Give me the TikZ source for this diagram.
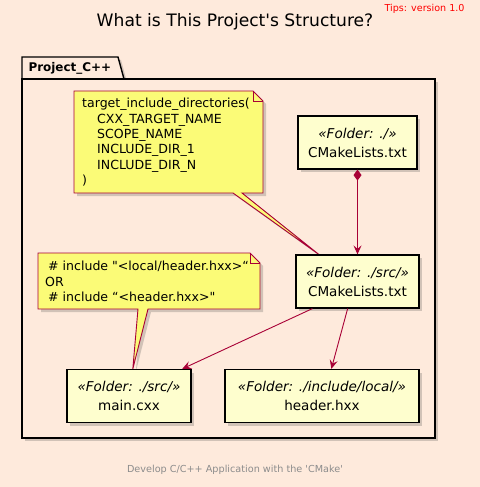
\documentclass[tikz,border=0pt]{standalone}
\usepackage{fontspec}
\setmainfont{DejaVu Sans}
\usetikzlibrary{arrows.meta,shadows}
\definecolor{pagebg}{HTML}{FEEADC}
\definecolor{boxfill}{HTML}{FEFECE}
\definecolor{notefill}{HTML}{FBFB77}
\definecolor{umlred}{HTML}{A80036}
\pgfdeclarelayer{back}
\pgfdeclarelayer{shade}
\pgfsetlayers{back,shade,main}
\tikzset{
  umlshadow/.style={drop shadow={shadow xshift=3bp,shadow yshift=-3bp,opacity=.25,fill=black!70}},
  filebox/.style={draw, line width=1.2bp, fill=boxfill, align=center, inner sep=0pt,
    font=\fontsize{13.6}{19}\selectfont, umlshadow},
  notetext/.style={align=left, inner sep=0pt, anchor=north west, font=\fontsize{12.6}{15.4}\selectfont},
  noteline/.style={draw=umlred, fill=notefill, line width=0.9bp, umlshadow},
  dep/.style={draw=umlred, line width=0.9bp, -{Stealth[length=9bp,width=8bp,inset=3.5bp]}},
  composition/.style={dep, {Diamond[length=11bp,width=8bp]}-{Stealth[length=9bp,width=8bp,inset=3.5bp]}},
}
\begin{document}
\begin{tikzpicture}[x=1bp,y=-1bp]
\useasboundingbox (0,0) rectangle (480,487);
\begin{pgfonlayer}{back}
\fill[pagebg] (0,0) rectangle (480,487);
\draw[line width=1.4bp, fill=pagebg, umlshadow] (22,79) -- (22,57) -- (118,57) -- (124,79) -- cycle;
\draw[line width=1.4bp, fill=pagebg, umlshadow] (22,79) rectangle (435,438);
\end{pgfonlayer}
\node (title) at (235,22) {\fontsize{17.2}{18}\selectfont What is This Project\textquotesingle s Structure?};
\node[anchor=north east, text=red, font=\fontsize{9.6}{11}\selectfont] (tips) at (468,0.5) {Tips: version 1.0};
\node[anchor=west, font=\fontsize{12}{14}\selectfont\bfseries] (pkglabel) at (25,68) {Project\_C++};
\node[filebox, minimum width=119bp, minimum height=53bp] (rootcm) at (357.5,142.5) {\textit{«Folder: ./»}\\CMakeLists.txt};
\node[filebox, minimum width=123bp, minimum height=53bp] (srccm) at (357.5,281.5) {\textit{«Folder: ./src/»}\\CMakeLists.txt};
\node[filebox, minimum width=124bp, minimum height=53bp] (maincxx) at (129,396) {\textit{«Folder: ./src/»}\\main.cxx};
\node[filebox, minimum width=194bp, minimum height=53bp] (header) at (322,396) {\textit{«Folder: ./include/local/»}\\header.hxx};
\node[notetext] (note1) at (82,98) {target\_include\_directories(\\
  \hspace*{15bp}CXX\_TARGET\_NAME\\
  \hspace*{15bp}SCOPE\_NAME\\
  \hspace*{15bp}INCLUDE\_DIR\_1\\
  \hspace*{15bp}INCLUDE\_DIR\_N\\
  )};
\node[notetext] (note2) at (45,261) {\hspace*{3bp}\# include \textquotedbl<local/header.hxx>“\\
  OR\\
  \hspace*{3bp}\# include “<header.hxx>\textquotedbl};
\begin{pgfonlayer}{shade}
\draw[noteline] (74,91) -- (253,91) -- (263,101) -- (263,193) -- (242,193) -- (srccm.145) -- (233,193) -- (74,193) -- cycle;
\draw[umlred, line width=0.9bp] (253,91) -- (253,101) -- (263,101);
\draw[noteline] (38,253) -- (250,253) -- (260,263) -- (260,309) -- (148,309) -- (maincxx.82) -- (138,309) -- (38,309) -- cycle;
\draw[umlred, line width=0.9bp] (250,253) -- (250,263) -- (260,263);
\end{pgfonlayer}
\draw[composition] (rootcm.south) -- (srccm.north);
\draw[dep] (srccm.211) -- (maincxx.27);
\draw[dep] (srccm.250) -- (header.71);
\node[text=black!45, font=\fontsize{9.7}{11}\selectfont] (footer) at (235,470) {Develop C/C++ Application with the \textquotesingle CMake\textquotesingle};
\end{tikzpicture}
\end{document}
